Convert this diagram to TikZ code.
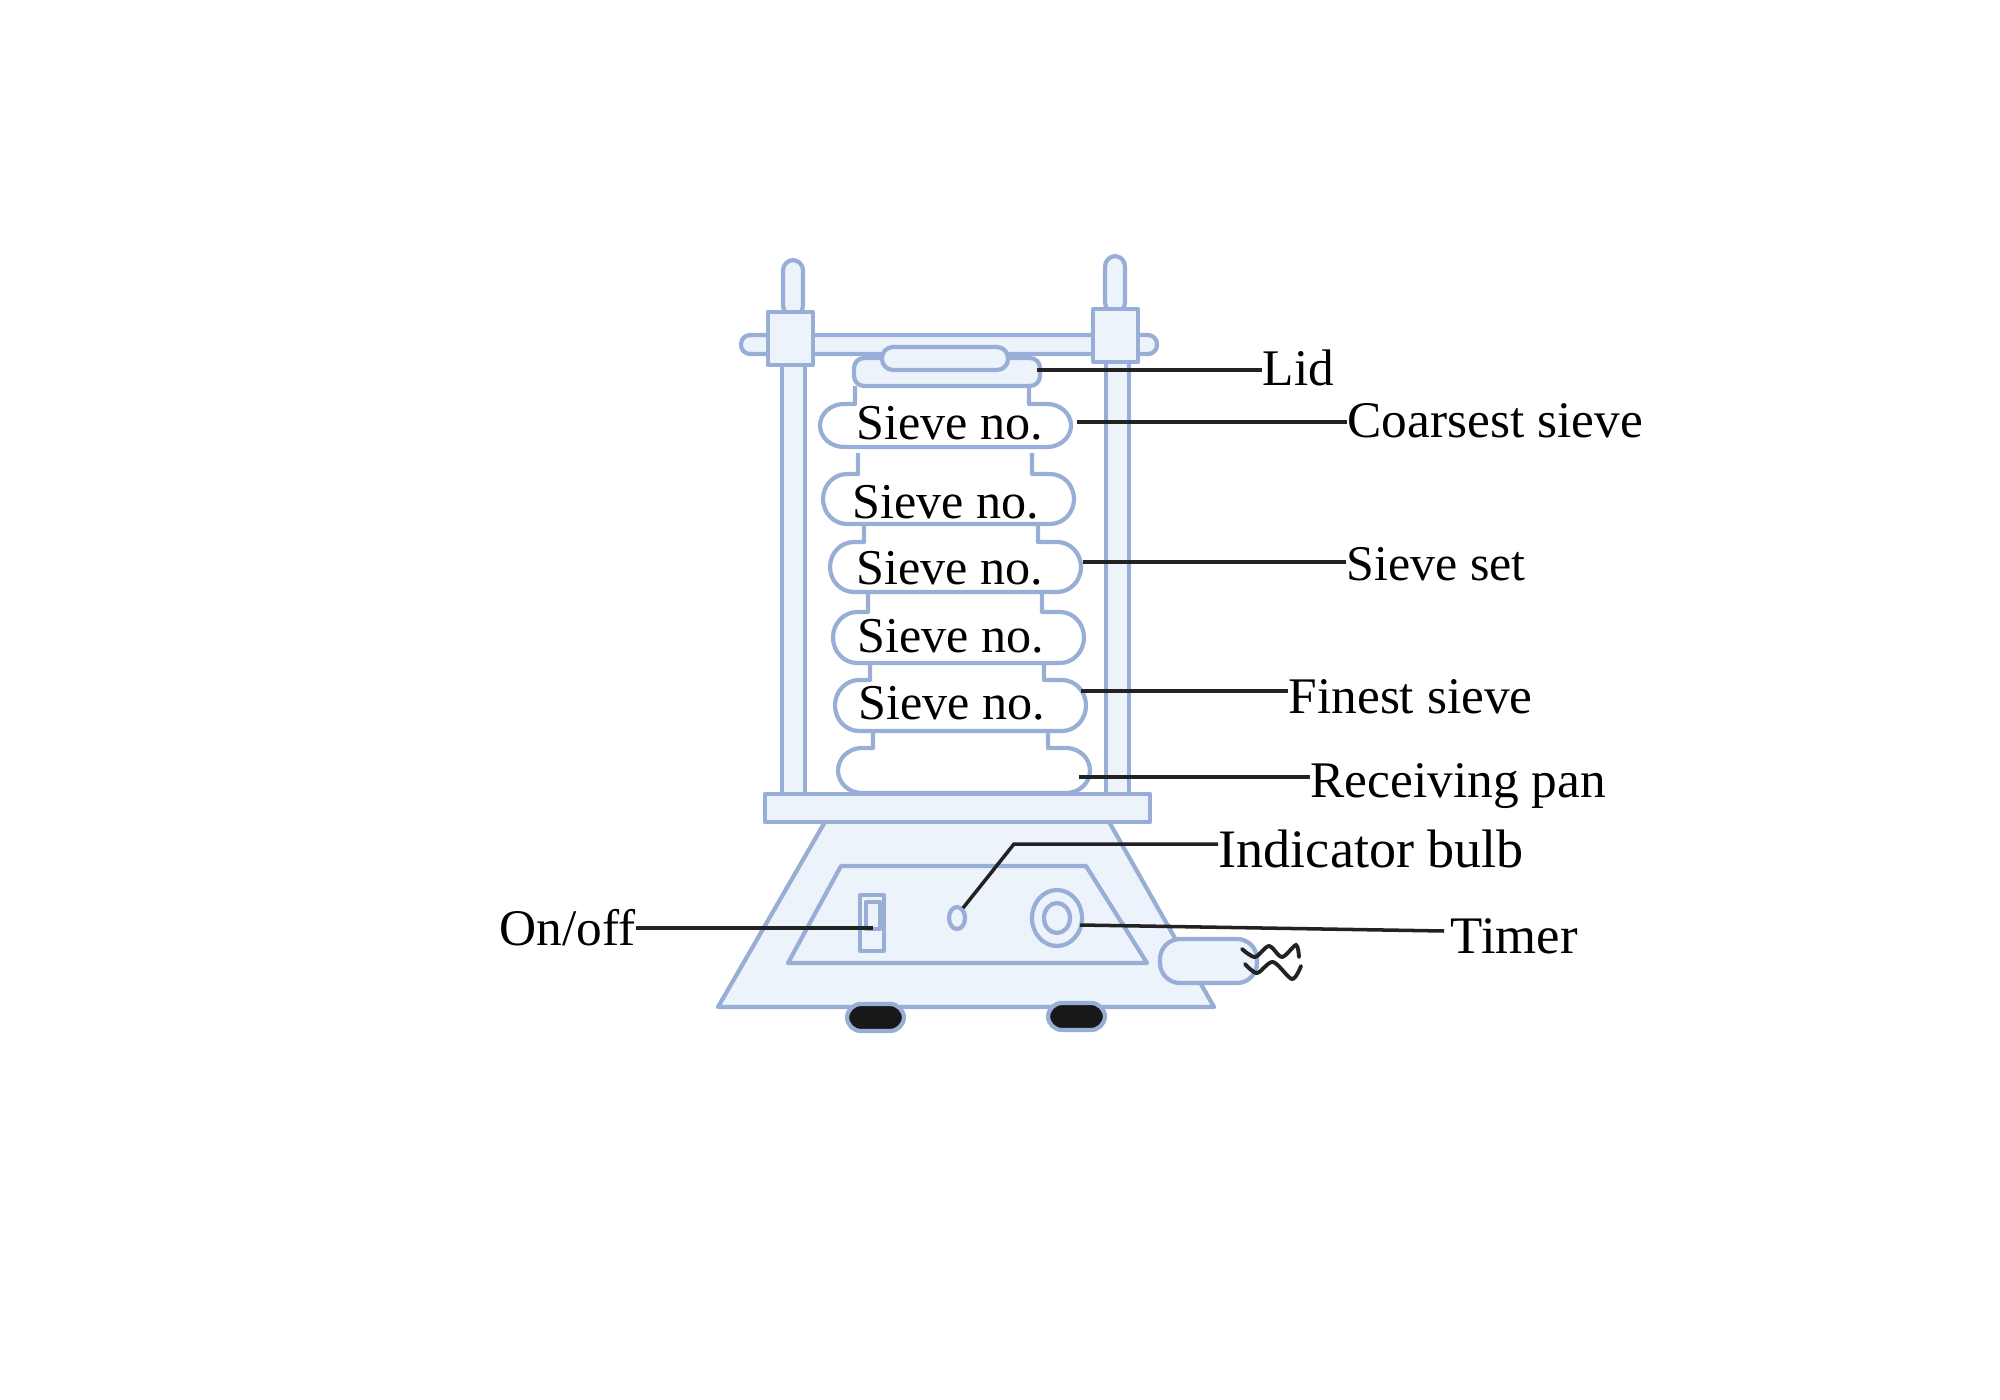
\documentclass[tikz,border=0pt]{standalone}
\usepackage{fontspec}
\setmainfont{Liberation Serif}
\definecolor{partline}{HTML}{98AED6}
\definecolor{partfill}{HTML}{EDF3FB}
\definecolor{leadline}{HTML}{222222}
\definecolor{footfill}{HTML}{181818}
\newcommand{\sievering}[7]{\draw [sieve] (#5,#7) -- (#5,#3) -- (#1+24,#3) arc [start angle=270,end angle=90,x radius=24,y radius={(#4-#3)/2}] -- (#2-24,#4) arc [start angle=90,end angle=-90,x radius=24,y radius={(#4-#3)/2}] -- (#6,#3) -- (#6,#7);}

\begin{document}
\begin{tikzpicture}
		[x=0.01cm, y=-0.01cm,
		part/.style={draw=partline,fill=partfill,line width=1.2pt,line join=round},
		sieve/.style={draw=partline,line width=1.2pt,line join=round},
		leader/.style={draw=leadline,line width=1pt},
		wire/.style={draw=leadline,line width=1.1pt,line cap=round},
		every node/.style={inner sep=0pt,font=\fontsize{14.6pt}{16pt}\selectfont},
		sievetext/.style={font=\fontsize{14.25pt}{16pt}\selectfont}]
		\useasboundingbox (0,0) rectangle (2000,1400);
		% stand
		\draw [part,rounded corners=.09cm] (741,335) rectangle (1157,354);
		\draw [part] (782,360) rectangle (805,795);
		\draw [part] (1106,360) rectangle (1129,795);
		\draw [part,rounded corners=.105cm] (783,260) rectangle (803,316);
		\draw [part,rounded corners=.105cm] (1105,256) rectangle (1125,313);
		\draw [part] (768,312) rectangle (813,365);
		\draw [part] (1093,309) rectangle (1138,362);
		% base
		\draw [part] (826,820) -- (1108,820) -- (1214,1007) -- (718,1007) -- cycle;
		\draw [part] (765,794) rectangle (1150,822);
		\draw [part] (841,866) -- (1086,866) -- (1147,963) -- (788,963) -- cycle;
		\draw [part] (860,895) rectangle (884,951);
		\draw [part] (866,902) rectangle (880,929);
		\draw [part] (957,918) ellipse (8 and 11);
		\draw [part] (1057,918) ellipse (25 and 28);
		\draw [part] (1057,918) ellipse (13 and 15);
		\draw [part,rounded corners=.2cm] (1160,939) rectangle (1257,983);
		\draw [part,fill=footfill,rounded corners=.14cm] (847,1004) rectangle (904,1031);
		\draw [part,fill=footfill,rounded corners=.14cm] (1048,1003) rectangle (1105,1030);
		\draw [wire] plot [smooth] coordinates {(1242,949) (1255,957) (1269,946) (1282,957) (1296,945) (1299,957)};
		\draw [wire] plot [smooth] coordinates {(1245,964) (1257,973) (1273,962) (1292,979) (1301,966)};
		% lid
		\draw [part,rounded corners=.1cm] (854,358) rectangle (1040,386);
		\draw [part,rounded corners=.11cm] (882,347) rectangle (1008,370);
		% sieves
		\sievering{820}{1071}{404}{447}{855}{1029}{386}
		\sievering{823}{1074}{474}{524}{858}{1032}{453}
		\sievering{830}{1081}{542}{592}{864}{1038}{524}
		\sievering{833}{1084}{612}{663}{868}{1042}{592}
		\sievering{835}{1086}{680}{731}{870}{1044}{663}
		\sievering{838}{1090}{748}{793}{873}{1048}{731}
		\node (sieve1) [sievetext] at (950,423) {Sieve no.};
		\node (sieve2) [sievetext] at (946,502) {Sieve no.};
		\node (sieve3) [sievetext] at (950,568) {Sieve no.};
		\node (sieve4) [sievetext] at (951,636) {Sieve no.};
		\node (sieve5) [sievetext] at (952,703) {Sieve no.};
		% labels
		\node (lid) [anchor=west] at (1262,368) {Lid};
		\node (coarsest) [anchor=west] at (1347,421) {Coarsest sieve};
		\node (sieveset) [anchor=west,font=\fontsize{14.2pt}{16pt}\selectfont] at (1346,564) {Sieve set};
		\node (finest) [anchor=west] at (1288,697) {Finest sieve};
		\node (pan) [anchor=west] at (1310,786) {Receiving pan};
		\node (bulb) [anchor=west,font=\fontsize{15.4pt}{16pt}\selectfont] at (1218,849) {Indicator bulb};
		\node (timer) [anchor=west,font=\fontsize{15pt}{16pt}\selectfont] at (1450,936) {Timer};
		\node (onoff) [anchor=east] at (636,928) {On/off};
		\coordinate (lidtip) at (1037,370);
		\coordinate (coarsesttip) at (1077,422);
		\coordinate (sievesettip) at (1083,562);
		\coordinate (finesttip) at (1081,691);
		\coordinate (pantip) at (1079,777);
		\coordinate (bulbtip) at (963,908);
		\coordinate (bulbbend) at (1014,844);
		\coordinate (timertip) at (1080,925);
		\coordinate (onofftip) at (873,928);
		\draw [leader] (lidtip) -- (lidtip -| lid.west);
		\draw [leader] (coarsesttip) -- (coarsesttip -| coarsest.west);
		\draw [leader] (sievesettip) -- (sievesettip -| sieveset.west);
		\draw [leader] (finesttip) -- (finesttip -| finest.west);
		\draw [leader] (pantip) -- (pantip -| pan.west);
		\draw [leader] (bulbtip) -- (bulbbend) -- (bulbbend -| bulb.west);
		\draw [leader] (timertip) -- ([xshift=-.06cm,yshift=.05cm]timer.west);
		\draw [leader] (onoff.east) -- (onofftip);
	\end{tikzpicture}
\end{document}
